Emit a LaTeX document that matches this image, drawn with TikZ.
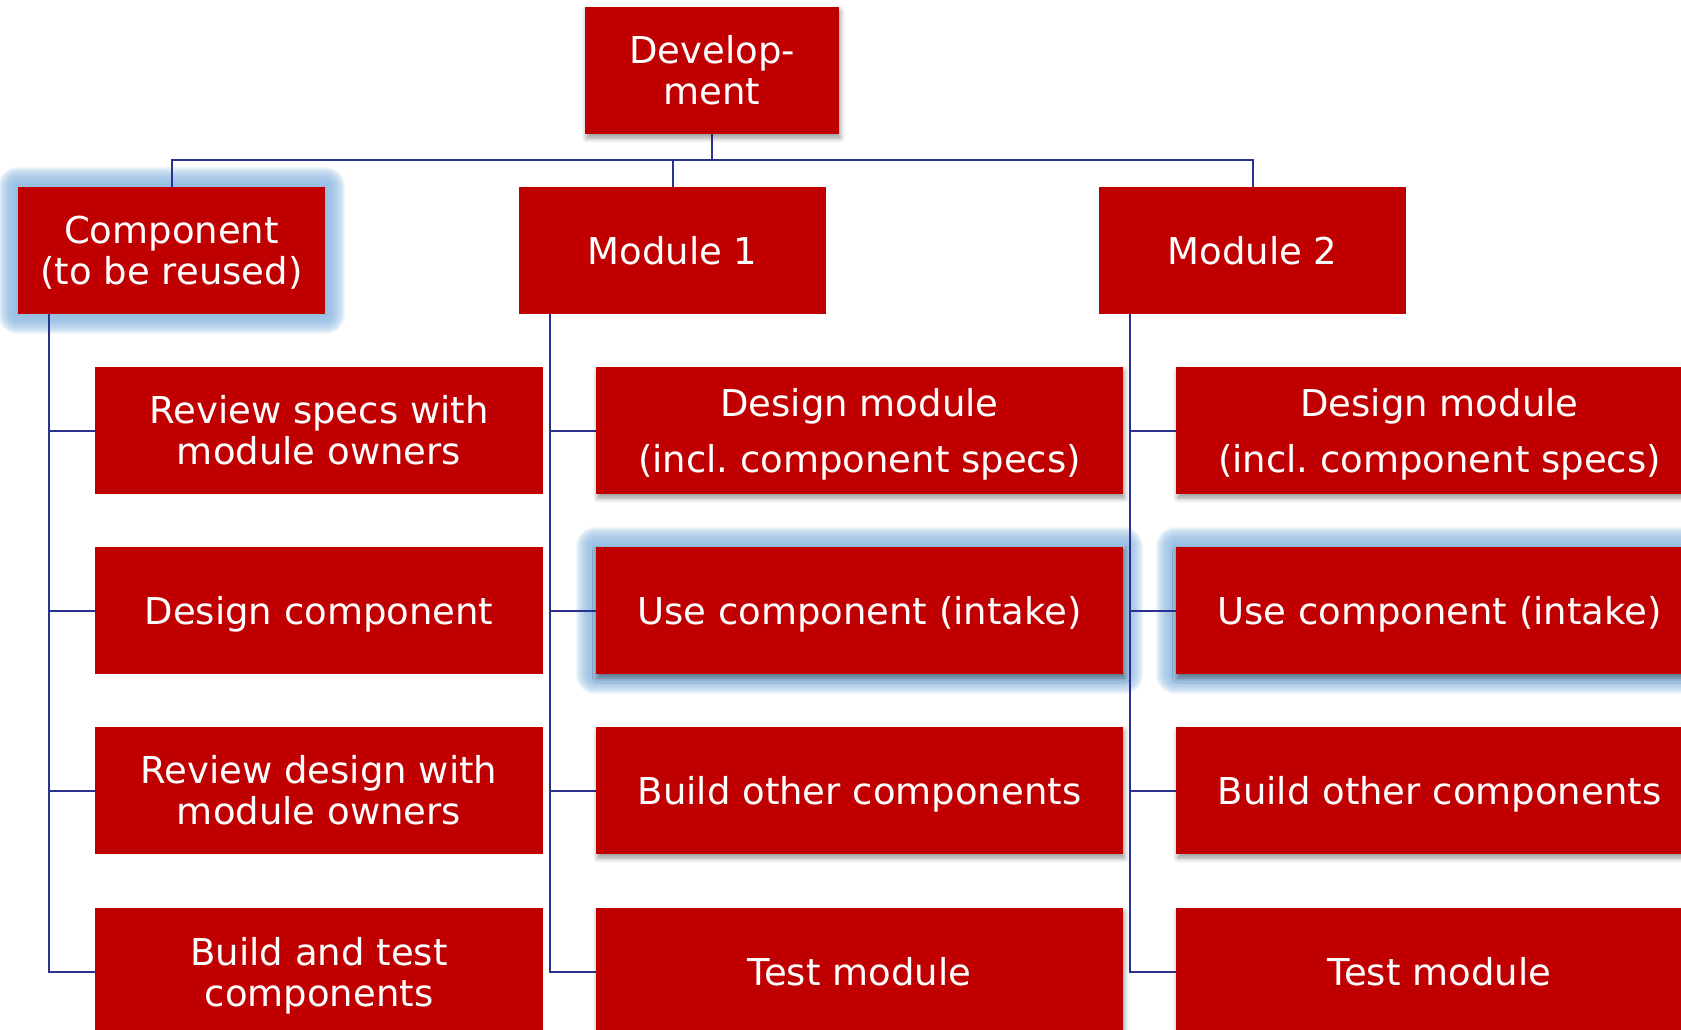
\documentclass[tikz,border=0pt]{standalone}
\usepackage{fontspec}
\setmainfont{DejaVu Sans}
\usetikzlibrary{shadows.blur}
\definecolor{boxred}{RGB}{192,0,0}
\definecolor{linkblue}{RGB}{44,50,146}
\definecolor{glowblue}{RGB}{140,184,224}
\pgfdeclarelayer{glow}
\pgfdeclarelayer{lines}
\pgfsetlayers{glow,lines,main}
\newcommand{\nodepth}[1]{\raisebox{0pt}[\height][0pt]{#1}}
\frenchspacing
\begin{document}
\begin{tikzpicture}[x=1pt,y=-1pt,
  box/.style={fill=boxred, text=white, align=center, inner sep=0pt,
    minimum height=127pt, font=\fontsize{37}{41}\selectfont},
  dropsh/.style={blur shadow={shadow xshift=1.5pt, shadow yshift=-4pt,
    shadow blur radius=5pt, shadow opacity=40}},
  topbox/.style={box, minimum width=307pt},
  colA/.style={box, minimum width=448pt},
  colB/.style={box, minimum width=527pt, dropsh},
  conn/.style={draw=linkblue, line width=2pt}]
\useasboundingbox (0,0) rectangle (1681,1030);
\clip (0,0) rectangle (1681,1030);

\node[box, dropsh, minimum width=254pt] (dev) at (712,70.5) {Develop-\\ment};

\node[topbox] (comp) at (171.5,250.5) {Component\\\nodepth{(to be reused)}};
\node[topbox] (mod1) at (672.5,250.5) {Module 1};
\node[topbox] (mod2) at (1252.5,250.5) {Module 2};

\node[colA] (a1) at (319,430.5) {Review specs with\\module owners};
\node[colA] (a2) at (319,610.5) {\nodepth{Design component}};
\node[colA] (a3) at (319,790.5) {Review design with\\module owners};
\node[colA] (a4) at (319,971.5) {Build and test\\\nodepth{components}};

\node[colB] (b1) at (859.5,430.5) {Design module\\[15pt]\nodepth{(incl. component specs)}};
\node[colB] (b2) at (859.5,610.5) {\nodepth{Use component (intake)}};
\node[colB] (b3) at (859.5,790.5) {\nodepth{Build other components}};
\node[colB] (b4) at (859.5,971.5) {Test module};

\node[colB] (c1) at (1439.5,430.5) {Design module\\[15pt]\nodepth{(incl. component specs)}};
\node[colB] (c2) at (1439.5,610.5) {\nodepth{Use component (intake)}};
\node[colB] (c3) at (1439.5,790.5) {\nodepth{Build other components}};
\node[colB] (c4) at (1439.5,971.5) {Test module};

\begin{pgfonlayer}{glow}
\foreach \n in {comp,b2,c2}{
  \foreach \i in {1,...,20}{
    \fill[glowblue, opacity=0.11, rounded corners=\i pt]
      ([shift={(-\i pt,\i pt)}]\n.north west) rectangle ([shift={(\i pt,-\i pt)}]\n.south east);
  }
}
\end{pgfonlayer}

\begin{pgfonlayer}{lines}
\draw[conn] (dev.south) -- ++(0,26) -| (comp.north);
\draw[conn] (dev.south) -- ++(0,26) -| (mod1.north);
\draw[conn] (dev.south) -- ++(0,26) -| (mod2.north);
\foreach \p/\k in {comp/a,mod1/b,mod2/c}{
  \foreach \r in {1,2,3,4}{
    \draw[conn] ([xshift=31pt]\p.south west) |- (\k\r.west);
  }
}
\end{pgfonlayer}
\end{tikzpicture}
\end{document}
